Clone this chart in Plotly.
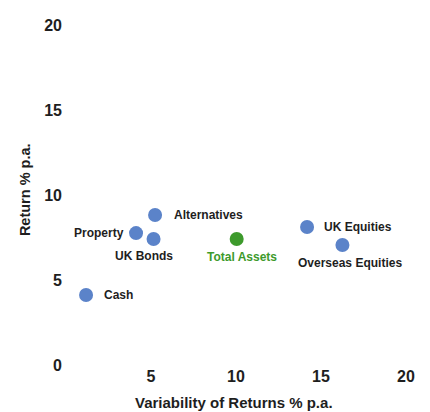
import plotly.graph_objects as go

names = ["Cash", "Property", "UK Bonds", "Alternatives", "UK Equities", "Overseas Equities"]
variability = [1.18, 4.12, 5.15, 5.24, 14.18, 16.26]
returns = [4.12, 7.76, 7.41, 8.82, 8.12, 7.06]

total_name = "Total Assets"
total_x = [10.04]
total_y = [7.41]

x_ticks = [5, 10, 15, 20]
y_ticks = [0, 5, 10, 15, 20]

# label placement (xshift, yshift, xanchor) in pixels
label_style = {
    "Cash": (16, 0, "left"),
    "Property": (-10, 0, "right"),
    "UK Bonds": (-10, -17, "center"),
    "Alternatives": (17, 0, "left"),
    "UK Equities": (15, 0, "left"),
    "Overseas Equities": (8, -18, "center"),
    "Total Assets": (5, -18, "center"),
}

FONT = "Liberation Sans, Arial, sans-serif"
DARK = "#1e1e1e"
BLUE = "#5b83c9"
GREEN = "#3d9a2c"

fig = go.Figure()
fig.add_trace(go.Scatter(
    x=variability, y=returns, mode="markers",
    marker=dict(color=BLUE, size=14), showlegend=False, cliponaxis=False,
    hovertext=names))
fig.add_trace(go.Scatter(
    x=total_x, y=total_y, mode="markers",
    marker=dict(color=GREEN, size=14), showlegend=False, cliponaxis=False,
    hovertext=[total_name]))

annotations = []
for n, xv, yv in zip(names + [total_name], variability + total_x, returns + total_y):
    dx, dy, anc = label_style[n]
    annotations.append(dict(
        text=n, x=xv, y=yv, xref="x", yref="y", showarrow=False,
        xanchor=anc, yanchor="middle", xshift=dx, yshift=dy,
        font=dict(family=FONT, size=12, weight="bold",
                  color=GREEN if n == total_name else DARK)))

annotations.append(dict(text="Variability of Returns % p.a.", xref="paper", yref="paper",
                        x=0.494, y=-0.109, xanchor="center", yanchor="middle", showarrow=False,
                        font=dict(family=FONT, size=15, weight="bold", color=DARK)))
annotations.append(dict(text="Return % p.a.", xref="paper", yref="paper",
                        x=-0.12, y=0.515, xanchor="center", yanchor="middle", textangle=-90,
                        showarrow=False,
                        font=dict(family=FONT, size=14.5, weight="bold", color=DARK)))

fig.update_layout(
    width=422, height=404,
    margin=dict(l=58, r=24, t=17, b=47),
    paper_bgcolor="white", plot_bgcolor="white",
    font=dict(family=FONT, color=DARK),
    xaxis=dict(range=[0, 20], tickvals=x_ticks, showgrid=False, zeroline=False, showline=False,
               automargin=False,
               tickfont=dict(family=FONT, size=16, weight="bold", color=DARK)),
    yaxis=dict(range=[0, 20], tickvals=y_ticks, showgrid=False, zeroline=False, showline=False,
               automargin=False, ticklabelstandoff=3,
               tickfont=dict(family=FONT, size=16, weight="bold", color=DARK)),
    annotations=annotations,
)
fig.write_html("out.html")
